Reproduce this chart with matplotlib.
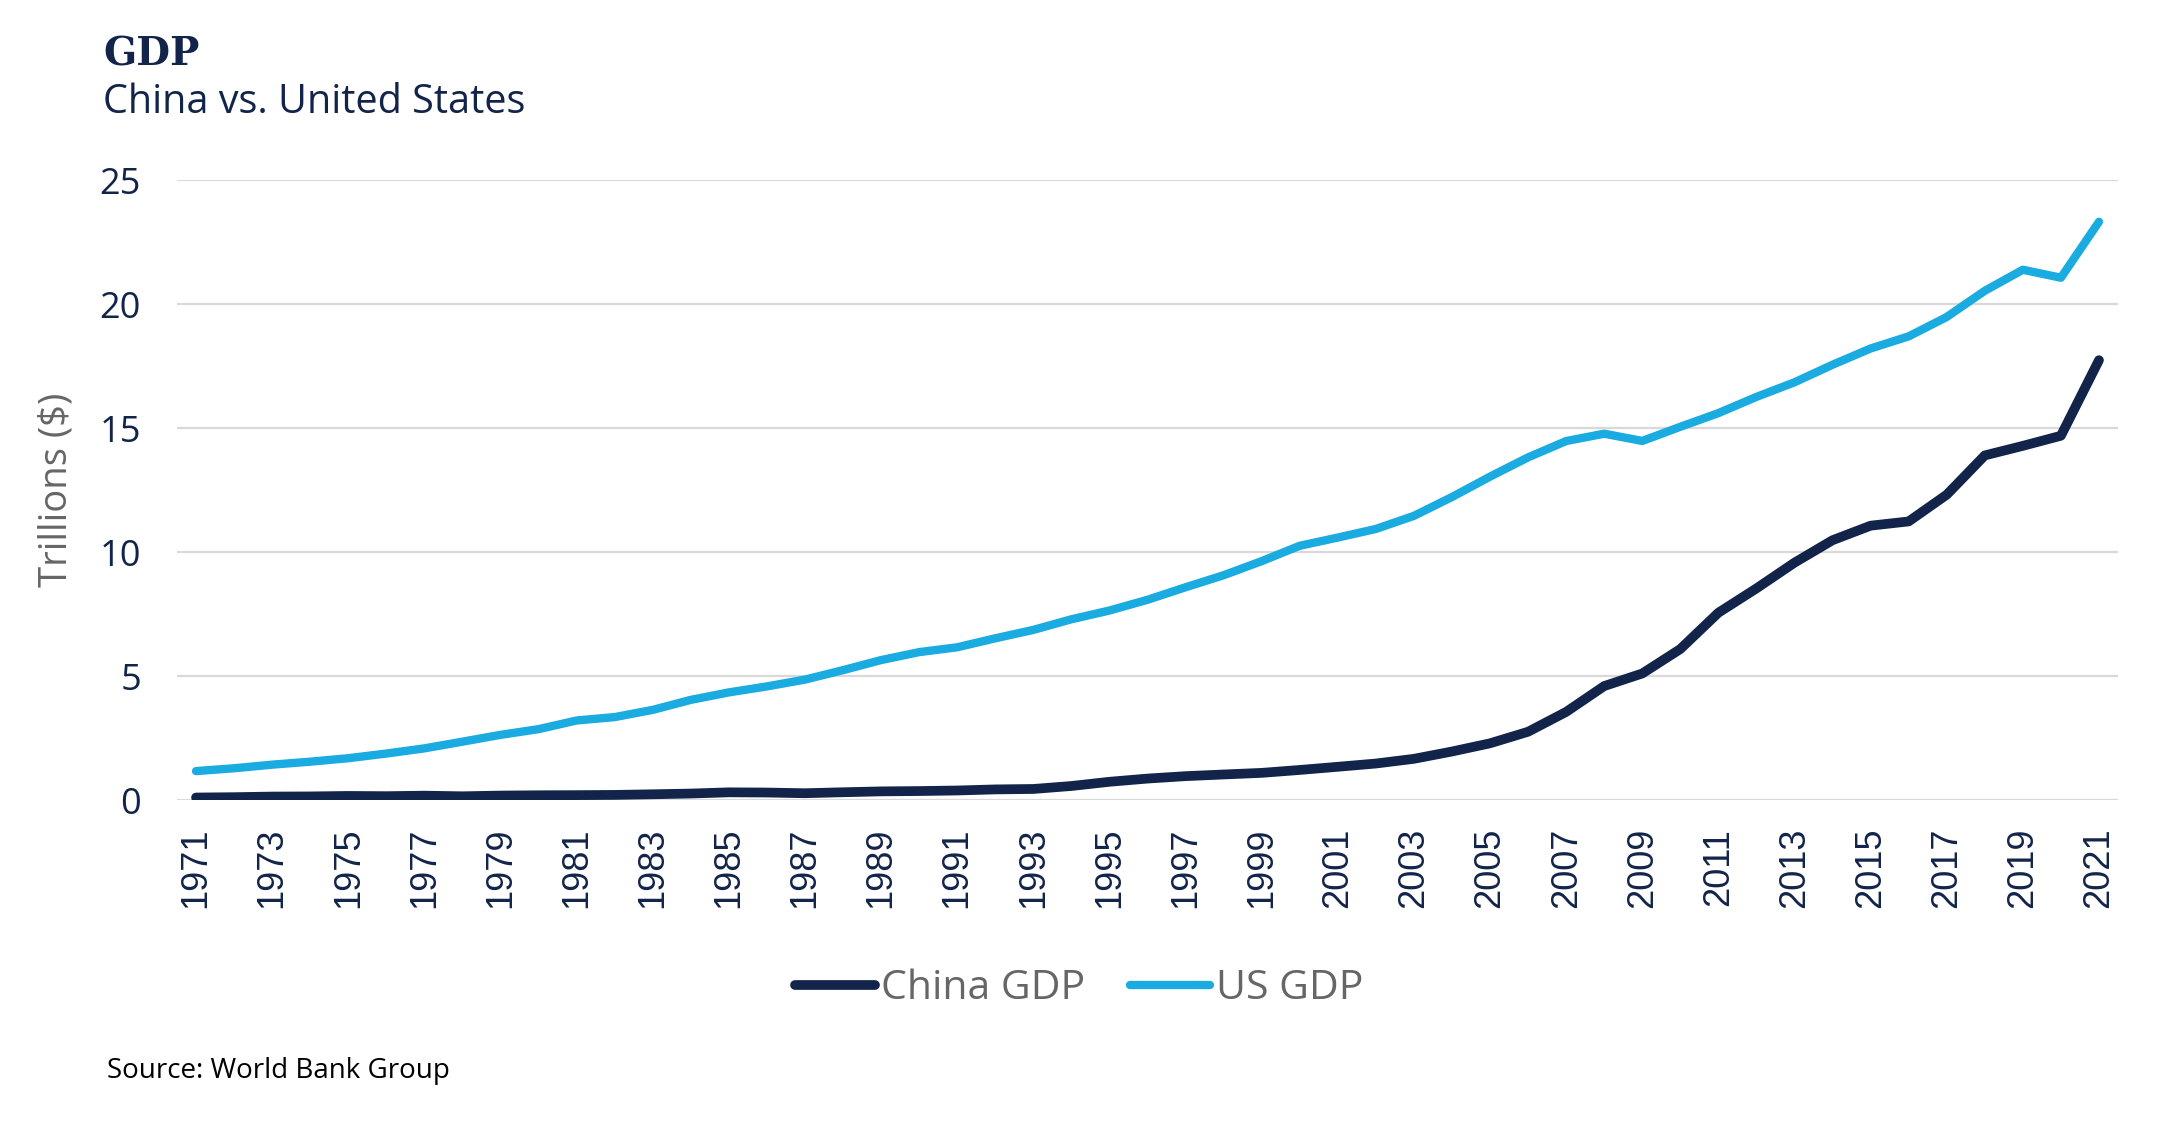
import matplotlib.pyplot as plt
import numpy as np

years = list(range(1971, 2022))

china_gdp = [0.0998, 0.1136, 0.1385, 0.1442, 0.1634, 0.1539, 0.1749, 0.1495, 0.1783, 0.1911,
             0.1960, 0.2051, 0.2309, 0.2599, 0.3094, 0.3008, 0.2729, 0.3123, 0.3478, 0.3609,
             0.3834, 0.4269, 0.4447, 0.5643, 0.7343, 0.8637, 0.9615, 1.0290, 1.0940, 1.2113,
             1.3394, 1.4706, 1.6603, 1.9553, 2.2860, 2.7521, 3.5522, 4.5944, 5.1017, 6.0872,
             7.5515, 8.5323, 9.5704, 10.4757, 11.0616, 11.2333, 12.3104, 13.8948, 14.2799, 14.6876,
             17.7341]

us_gdp = [1.165, 1.280, 1.425, 1.545, 1.685, 1.873, 2.082, 2.352, 2.627, 2.857,
          3.207, 3.343, 3.634, 4.037, 4.339, 4.580, 4.855, 5.236, 5.642, 5.963,
          6.158, 6.520, 6.859, 7.287, 7.640, 8.073, 8.578, 9.063, 9.631, 10.251,
          10.582, 10.929, 11.457, 12.217, 13.039, 13.816, 14.474, 14.770, 14.478, 15.049,
          15.600, 16.254, 16.843, 17.551, 18.206, 18.695, 19.477, 20.533, 21.381, 21.060,
          23.315]

y_ticks = [0, 5, 10, 15, 20, 25]
x_ticks = years[::2]

NAVY = "#13244a"
BLUE = "#1aabe0"
GREY = "#666666"
SANS = ["Open Sans", "Lato", "DejaVu Sans"]
NARROW = ["Liberation Sans Narrow", "Liberation Sans", "DejaVu Sans"]

fig = plt.figure(figsize=(21.65, 11.24), dpi=100)
ax = fig.add_axes([177/2165, 1-800/1124, (2118-177)/2165, 620/1124])

ax.plot(years, china_gdp, color=NAVY, lw=7, solid_capstyle="round", solid_joinstyle="round",
        label="China GDP", zorder=3)
ax.plot(years, us_gdp, color=BLUE, lw=6, solid_capstyle="round", solid_joinstyle="round",
        label="US GDP", zorder=3)

ax.set_xlim(1970.5, 2021.5)
ax.set_ylim(0, 25)
ax.set_yticks(y_ticks)
ax.set_xticks(x_ticks)
ax.set_yticklabels([str(v) for v in y_ticks], family=SANS, fontsize=26, color=NAVY)
ax.set_xticklabels([str(v) for v in x_ticks], family=NARROW, fontsize=26, color=NAVY, rotation=90)
ax.tick_params(axis="y", length=0, pad=26)
ax.tick_params(axis="x", length=0, pad=20)
ax.grid(axis="y", color="#d9d9d9", lw=1.6, zorder=0)
for s in ax.spines.values():
    s.set_visible(False)

fig.text(56/2165, 1-490/1124, "Trillions ($)", rotation=90, ha="center", va="center",
         family=SANS, fontsize=27.5, color=GREY)

fig.text(103/2165, 1-66/1124, "GDP", family=["DejaVu Serif"], fontweight="bold",
         fontsize=28, color=NAVY, va="baseline")
fig.text(103/2165, 1-113/1124, "China vs. United States", family=SANS, fontsize=28.5,
         color=NAVY, va="baseline")
fig.text(107/2165, 1-1078/1124, "Source: World Bank Group", family=SANS, fontsize=20,
         color="black", va="baseline")

leg = fig.legend(loc="center", bbox_to_anchor=(1079/2165, 1-989/1124), ncol=2, frameon=False,
                 prop={"family": SANS, "size": 29.5}, handlelength=1.95, handletextpad=0.15,
                 columnspacing=1.1)
for t in leg.get_texts():
    t.set_color(GREY)

fig.savefig("out.png", dpi=100)
